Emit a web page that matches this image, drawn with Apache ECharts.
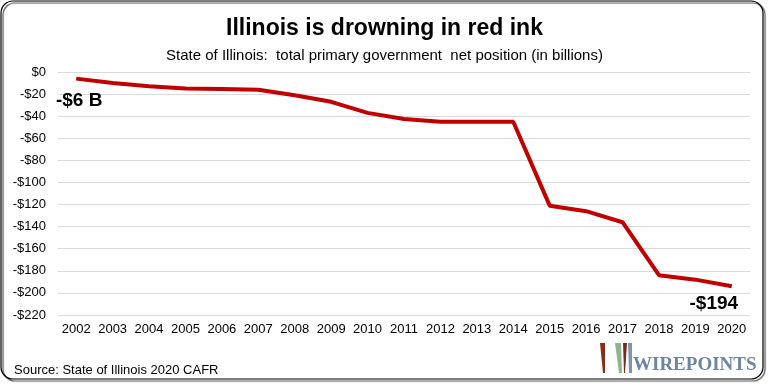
<!DOCTYPE html>
<html>
<head>
<meta charset="utf-8">
<script src="https://cdn.jsdelivr.net/npm/echarts@6/dist/echarts.min.js"></script>
<style>
html,body{margin:0;padding:0;background:#fff;}
#chart{width:769px;height:385px;}
</style>
</head>
<body>
<div id="chart"></div>
<script>
const years = ['2002','2003','2004','2005','2006','2007','2008','2009','2010','2011','2012','2013','2014','2015','2016','2017','2018','2019','2020'];
const netPosition = [-6,-10,-13,-15,-15.5,-16,-21,-27,-37,-42.5,-45,-45,-45,-121,-126,-136,-184,-188,-194];
const firstLabel = '-$6 B';
const lastLabel = '-$194';
const titleText = 'Illinois is drowning in red ink';
const subtitleText = 'State of Illinois:  total primary government  net position (in billions)';
const sourceText = 'Source: State of Illinois 2020 CAFR';

const font = '"Liberation Sans", Arial, sans-serif';
const seriesData = netPosition.map((v, i) => {
  const item = { value: v };
  if (i === 0) {
    item.label = { show: true, formatter: firstLabel, position: 'bottom', distance: 12, offset: [3, 0] };
  } else if (i === netPosition.length - 1) {
    item.label = { show: true, formatter: lastLabel, position: 'bottom', distance: 7, offset: [-18, 0] };
  }
  return item;
});

const chart = echarts.init(document.getElementById('chart'), null, { renderer: 'canvas' });
chart.setOption({
  animation: false,
  backgroundColor: '#fff',
  title: [
    { text: titleText, left: 'center', top: 12, textStyle: { fontFamily: font, fontSize: 23, fontWeight: 'bold', color: '#000' } },
    { text: subtitleText, left: 'center', top: 43, textStyle: { fontFamily: font, fontSize: 15, fontWeight: 'normal', color: '#000' } }
  ],
  grid: { left: 58, right: 19, top: 72, bottom: 70 },
  xAxis: {
    type: 'category',
    data: years,
    boundaryGap: true,
    axisLine: { show: false },
    axisTick: { show: false },
    axisLabel: { fontFamily: font, fontSize: 13, color: '#000', margin: 8, interval: 0 }
  },
  yAxis: {
    type: 'value',
    min: -220,
    max: 0,
    interval: 20,
    axisLine: { show: false },
    axisTick: { show: false },
    splitLine: { lineStyle: { color: '#d9d9d9', width: 1 } },
    axisLabel: {
      fontFamily: font, fontSize: 13, color: '#000', margin: 12,
      formatter: v => v === 0 ? '$0' : '-$' + Math.abs(v)
    }
  },
  series: [{
    type: 'line',
    data: seriesData,
    symbol: 'circle',
    symbolSize: 1,
    showSymbol: true,
    itemStyle: { color: 'rgba(0,0,0,0)' },
    smooth: false,
    lineStyle: { color: '#c00000', width: 4 },
    label: { show: false, fontFamily: font, fontSize: 19, fontWeight: 'bold', color: '#000' }
  }],
  graphic: [
    {
      type: 'rect', silent: true, z: 100,
      shape: { x: 1, y: 1, width: 762, height: 378, r: 12 },
      style: { fill: 'none', stroke: '#000', lineWidth: 1.2, shadowBlur: 1, shadowOffsetX: 2, shadowOffsetY: 2, shadowColor: 'rgba(0,0,0,0.7)' }
    },
    {
      type: 'text', left: 14, top: 364, silent: true,
      style: { text: sourceText, fontFamily: font, fontSize: 13, fill: '#000' }
    },
    { type: 'polygon', silent: true, z: 50, shape: { points: [[600,343],[605,343],[605,373],[603,373]] }, style: { fill: '#8b2a1a' } },
    { type: 'polygon', silent: true, z: 50, shape: { points: [[615,343],[621,343],[622,373],[619,373]] }, style: { fill: '#8fb58f' } },
    { type: 'polygon', silent: true, z: 50, shape: { points: [[623,343],[627,343],[625,373],[624,373]] }, style: { fill: '#7a2a1a' } },
    { type: 'polygon', silent: true, z: 50, shape: { points: [[628,343],[632,343],[632,373],[629,373]] }, style: { fill: '#7f93ad' } },
    {
      type: 'text', left: 633, top: 356, silent: true, z: 50,
      style: { text: 'WIREPOINTS', fontFamily: '"Liberation Serif", "DejaVu Serif", serif', fontSize: 19, fontWeight: 'bold', fill: '#6e84a3' }
    }
  ]
});
</script>
</body>
</html>
